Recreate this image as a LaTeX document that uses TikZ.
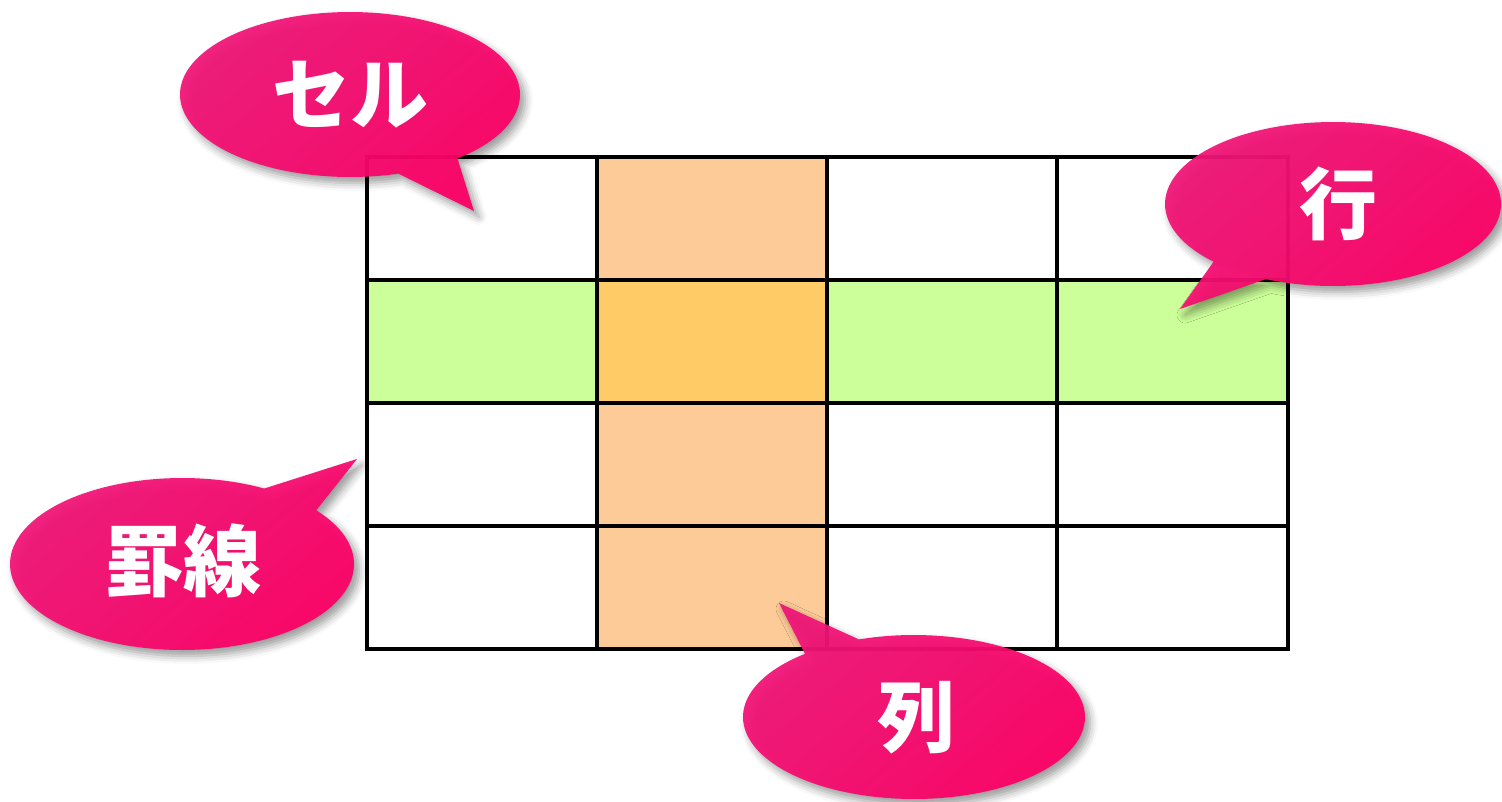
\documentclass[tikz,border=0pt]{standalone}
\usepackage{fontspec}
\newfontfamily\cjk{Noto Sans CJK JP}
\usetikzlibrary{shadows.blur}
\definecolor{peach}{RGB}{253,203,152}
\definecolor{lgreen}{RGB}{204,255,153}
\definecolor{mango}{RGB}{254,203,102}
\definecolor{pinkA}{RGB}{240,22,120}
\definecolor{pinkB}{RGB}{255,0,102}
\tikzset{
  callout/.style={top color=pinkA, bottom color=pinkB, shading angle=40, fill opacity=0.94,
    blur shadow={shadow xshift=5pt, shadow yshift=-6pt, shadow blur radius=8pt, shadow opacity=40}},
  lbl/.style={text=white, font=\cjk\bfseries\fontsize{78}{78}\selectfont, inner sep=0pt},
  gridline/.style={line width=3.5pt, black, line cap=rect}
}
\begin{document}
\begin{tikzpicture}[x=1pt,y=-1pt]
\useasboundingbox (0,0) rectangle (1502,801);
% cell fills
\fill[peach] (597,157) rectangle (827,649);
\fill[lgreen] (367,280) rectangle (1288,403);
\fill[mango] (597,280) rectangle (827,403);
% grid lines
\foreach \gx in {367,597,827,1057,1288} \draw[gridline] (\gx,157) -- (\gx,649);
\foreach \gy in {157,280,403,526,649} \draw[gridline] (367,\gy) -- (1288,\gy);
% callouts
\shade[callout] plot[domain=73.5:410.8, samples=140] ({350+170*cos(\x)},{94.5+82.5*sin(\x)}) -- (474,211) -- cycle;
\node[lbl] (cell) at (350,95) {セル};
\shade[callout] plot[domain=-38.7:298.6, samples=140] ({182+172*cos(\x)},{564+86*sin(\x)}) -- (357,459) -- cycle;
\node[lbl] (keisen) at (183,561) {罫線};
\shade[callout] plot[domain=113.6:495.3, samples=140] ({1333+168*cos(\x)},{204+82*sin(\x)}) -- (1180,309) -- cycle;
\node[lbl] (gyou) at (1338,204) {行};
\shade[callout] plot[domain=251.2:590.4, samples=140] ({914+171*cos(\x)},{717+82*sin(\x)}) -- (779,603) -- cycle;
\node[lbl] (retsu) at (916,718) {列};
\end{tikzpicture}
\end{document}
